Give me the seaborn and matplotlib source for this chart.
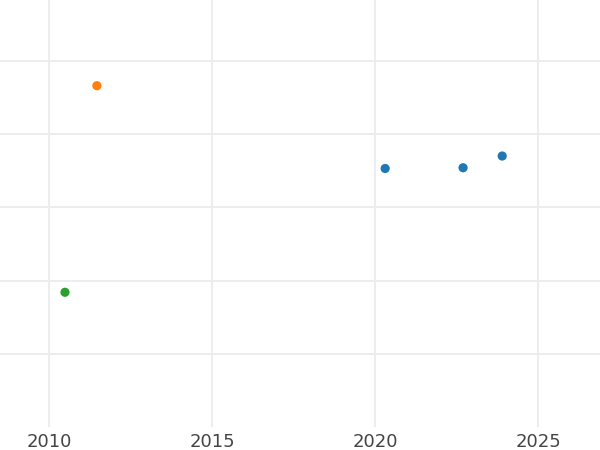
import matplotlib
matplotlib.use("Agg")
import matplotlib.pyplot as plt
import seaborn as sns
import pandas as pd

series = ["A", "A", "A", "B", "C"]
years = [2020.31, 2022.70, 2023.90, 2011.47, 2010.49]
values = [3.53, 3.54, 3.70, 4.66, 1.84]
palette = {"A": "#1f77b4", "B": "#ff7f0e", "C": "#2ca02c"}
xticks = [2010, 2015, 2020, 2025]
yticks = [1, 2, 3, 4, 5]

df = pd.DataFrame({"series": series, "year": years, "value": values})

sns.set_theme(style="white")
fig = plt.figure(figsize=(6, 4.5), dpi=100)
ax = fig.add_axes([0, 0.051, 1, 0.949])
sns.scatterplot(data=df, x="year", y="value", hue="series", palette=palette,
                s=44, linewidth=0, legend=False, ax=ax, zorder=3)
ax.set_xlim(2008.497, 2026.90)
ax.set_ylim(0, 5.83)
ax.set_xticks(xticks)
ax.set_xticklabels([str(t) for t in xticks])
ax.set_yticks(yticks)
ax.set_yticklabels([])
ax.grid(True, color="#ececec", linewidth=1.3)
ax.set_axisbelow(True)
for s in ax.spines.values():
    s.set_visible(False)
ax.tick_params(axis="x", length=0, pad=4, labelsize=13, labelcolor="#444444")
ax.tick_params(axis="y", length=0)
ax.set_xlabel("")
ax.set_ylabel("")
fig.savefig("out.png", dpi=100, facecolor="white")
